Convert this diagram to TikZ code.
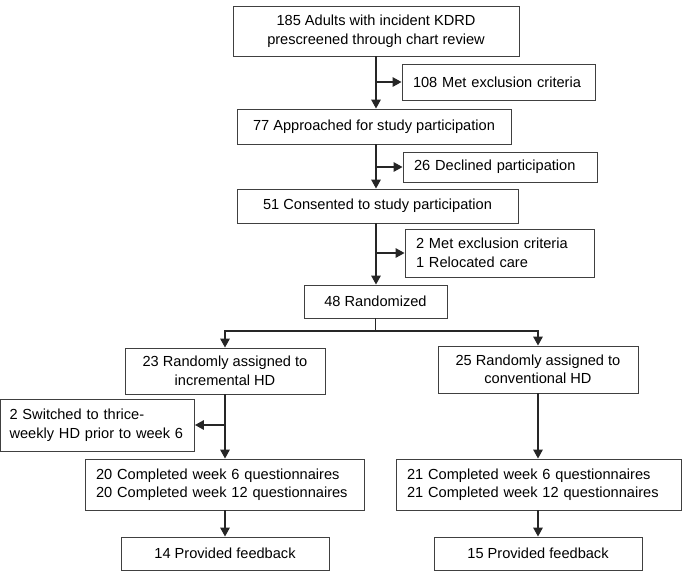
\documentclass[tikz,border=0pt]{standalone}
\usepackage{fontspec}
\setmainfont{Liberation Sans}
\usetikzlibrary{arrows.meta}

\begin{document}
\begin{tikzpicture}[x=1pt, y=-1pt, font=\fontsize{14.6}{18.5}\selectfont,
	box/.style={draw=black!75, line width=0.9pt, inner sep=0pt, align=center},
	sidebox/.style={draw=black!75, line width=0.9pt, inner xsep=11pt, inner ysep=0pt, align=left},
	arr/.style={line width=1.6pt, black!85, -{Triangle[length=9pt, width=9.5pt]}}]
	\useasboundingbox (0,0) rectangle (685,571);
	% main column
	\node[box, minimum width=286, minimum height=50] (screen) at (376,31) {185 Adults with incident KDRD\\prescreened through chart review};
	\node[sidebox, text width=171, minimum height=36] (excl1) at (498.5,82) {108 Met exclusion criteria};
	\node[box, minimum width=274, minimum height=35] (appr) at (374,126.5) {77 Approached for study participation};
	\node[sidebox, text width=172, minimum height=30] (decl) at (500,167) {26 Declined participation};
	\node[box, minimum width=281, minimum height=34] (cons) at (377.5,206) {51 Consented to study participation};
	\node[sidebox, text width=167, minimum height=48] (excl2) at (499.5,253) {2 Met exclusion criteria\\1 Relocated care};
	\node[box, minimum width=143, minimum height=33] (rand) at (375.5,301.5) {48 Randomized};
	\coordinate (split) at (375.5,331);
	% two arms
	\node[box, minimum width=200, minimum height=46] (incr) at (225,371) {23 Randomly assigned to\\incremental HD};
	\node[box, minimum width=200, minimum height=47] (conv) at (538,369.5) {25 Randomly assigned to\\conventional HD};
	\node[sidebox, inner xsep=9pt, text width=176, minimum height=52] (switch) at (97.5,425) {2 Switched to thrice-\\weekly HD prior to week 6};
	\node[sidebox, text width=257, minimum height=51] (compl) at (224.5,484.5) {20 Completed week 6 questionnaires\\20 Completed week 12 questionnaires};
	\node[sidebox, text width=263, minimum height=51] (compr) at (538.5,484.5) {21 Completed week 6 questionnaires\\21 Completed week 12 questionnaires};
	\node[box, minimum width=208, minimum height=33] (fbl) at (225,553.5) {14 Provided feedback};
	\node[box, minimum width=208, minimum height=33] (fbr) at (538,553.5) {15 Provided feedback};

	\draw[arr] (screen.south) -- (screen.south |- appr.north);
	\draw[arr] (screen.south |- excl1.west) -- (excl1.west);
	\draw[arr] (screen.south |- appr.south) -- (screen.south |- cons.north);
	\draw[arr] (screen.south |- decl.west) -- (decl.west);
	\draw[arr] (screen.south |- cons.south) -- (screen.south |- rand.north);
	\draw[arr] (screen.south |- excl2.west) -- (excl2.west);
	\draw[line width=1.6pt, black!85] (rand.south) -- (split);
	\draw[arr] (split) -| (incr.north);
	\draw[arr] (split) -| (conv.north);
	\draw[arr] (incr.south) -- (compl.north -| incr.south);
	\draw[arr] (incr.south |- switch.east) -- (switch.east);
	\draw[arr] (conv.south) -- (compr.north -| conv.south);
	\draw[arr] (fbl.north |- compl.south) -- (fbl.north);
	\draw[arr] (fbr.north |- compr.south) -- (fbr.north);
\end{tikzpicture}
\end{document}
